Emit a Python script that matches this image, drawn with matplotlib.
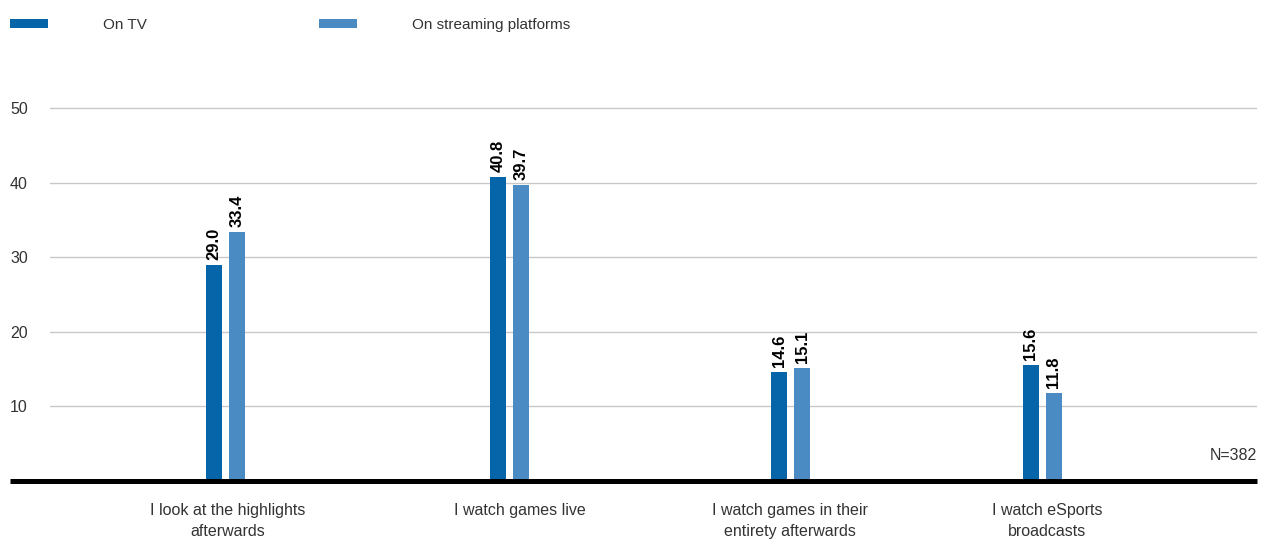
import matplotlib
matplotlib.use("Agg")
import matplotlib.pyplot as plt
import numpy as np

plt.rcParams['font.family'] = ['Liberation Sans', 'DejaVu Sans']

categories = ["I look at the highlights\nafterwards", "I watch games live",
              "I watch games in their\nentirety afterwards", "I watch eSports\nbroadcasts"]
on_tv = [29.0, 40.8, 14.6, 15.6]
on_streaming = [33.4, 39.7, 15.1, 11.8]
series_names = ["On TV", "On streaming platforms"]
yticks = [10, 20, 30, 40, 50]

# group layout (category units)
group_x = np.array([0.0, 1.007, 2.004, 2.897])
label_x = np.array([0.009, 1.044, 2.002, 2.913])
bar_w = 0.0567
offset = 0.0408

dark = "#0565a8"
light = "#4a8bc3"
text_col = "#333333"

W, H = 1271, 541
fig = plt.figure(figsize=(W / 100, H / 100), dpi=100)
left_px, right_px, bottom_px, top_px = 50, 1257, 481, 93
ax = fig.add_axes([left_px / W, 1 - bottom_px / H,
                   (right_px - left_px) / W, (bottom_px - top_px) / H])

b1 = ax.bar(group_x - offset, on_tv, width=bar_w, color=dark, label=series_names[0], zorder=3)
b2 = ax.bar(group_x + offset, on_streaming, width=bar_w, color=light, label=series_names[1], zorder=3)

for bars, vals in ((b1, on_tv), (b2, on_streaming)):
    for rect, v in zip(bars, vals):
        ax.annotate(f"{v:.1f}", (rect.get_x() + rect.get_width() / 2, v),
                    xytext=(0, 3.5), textcoords="offset points",
                    rotation=90, ha="center", va="bottom",
                    fontsize=12, fontweight="bold", color="black")

ax.set_xlim(-0.622, 3.658)
ax.set_ylim(0, 52)
ax.set_yticks(yticks)
ax.set_xticks(label_x)
ax.set_xticklabels(categories, linespacing=1.55)
ax.yaxis.grid(True, color="#c8c8c8", linewidth=1.0, zorder=0)
ax.tick_params(axis="y", length=0, pad=28.8, labelsize=11.5, labelcolor=text_col)
ax.tick_params(axis="x", length=0, pad=15.5, labelsize=11.5, labelcolor=text_col)
for lbl in ax.get_yticklabels():
    lbl.set_horizontalalignment("left")
for s in ax.spines.values():
    s.set_visible(False)

# thick baseline running out past the left edge
ax.axhline(0, xmin=-40 / (right_px - left_px), xmax=1, color="black",
           linewidth=3.6, clip_on=False, zorder=4, solid_capstyle="butt")

ax.text(1.0, 3.4, "N=382", transform=ax.get_yaxis_transform(),
        ha="right", va="center", fontsize=11.5, color=text_col)

fig.legend(handles=[b1, b2], loc="center left",
           bbox_to_anchor=(10 / W, 1 - 25 / H), ncol=2, frameon=False,
           fontsize=11, handlelength=2.48, handleheight=0.55,
           handletextpad=3.6, columnspacing=11.3, borderpad=0,
           borderaxespad=0, labelcolor=text_col)

fig.savefig("out.png", dpi=100)
